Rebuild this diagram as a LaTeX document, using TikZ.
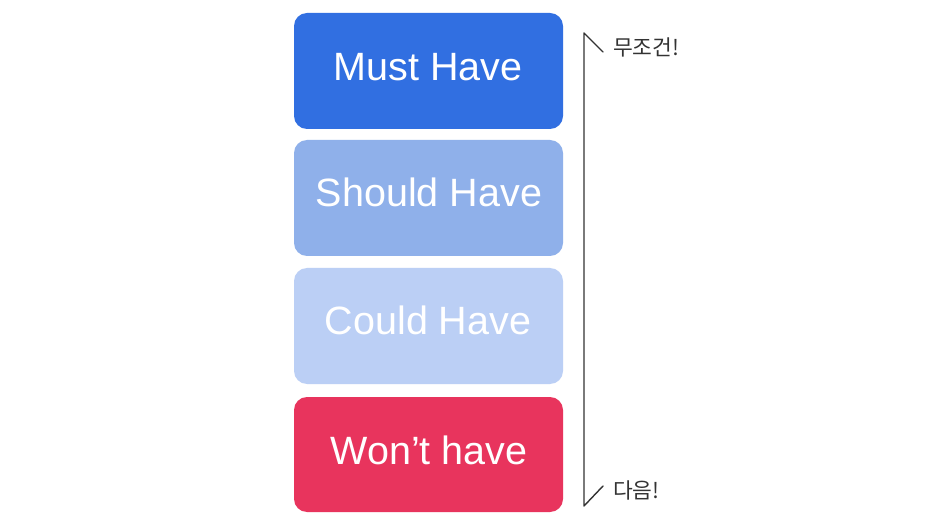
\documentclass[tikz,border=0pt]{standalone}
\usepackage{fontspec}
\setmainfont{Liberation Sans}
\newfontfamily\krfont{Noto Sans CJK KR}
\definecolor{mustc}{HTML}{316FE1}
\definecolor{shouldc}{HTML}{8FB0EA}
\definecolor{couldc}{HTML}{BBCFF5}
\definecolor{wontc}{HTML}{E8345D}
\definecolor{brc}{HTML}{333333}
\tikzset{
  prio/.style={rounded corners=13pt, draw=none},
  priotext/.style={text=white, font=\fontsize{39.5}{39.5}\selectfont, anchor=base, inner sep=0pt},
  krtext/.style={text=brc, font=\krfont\fontsize{21.5}{21.5}\selectfont, anchor=west, inner sep=0pt},
  brline/.style={draw=brc, line width=1.4pt, line cap=round, line join=round}
}
\begin{document}
\begin{tikzpicture}[x=1pt,y=-1pt]
\useasboundingbox (0,0) rectangle (940,529);
\fill[white] (0,0) rectangle (940,529);
% boxes
\fill[prio, fill=mustc]   (294,13)  rectangle (563,129);
\fill[prio, fill=shouldc] (294,140) rectangle (563,256);
\fill[prio, fill=couldc]  (294,268) rectangle (563,384);
\fill[prio, fill=wontc]   (294,397) rectangle (563,512);
\node[priotext] (must)   at (428,81)  {Must Have};
\node[priotext] (should) at (429,207) {Should Have};
\node[priotext] (could)  at (428,335) {Could Have};
\node[priotext] (wont)   at (429,464) {Won’t have};
% bracket
\coordinate (ttip) at (603,52);
\coordinate (ttop) at (584,33);
\coordinate (bbot) at (584,506);
\coordinate (btip) at (603,486);
\draw[brline] (ttip) -- (ttop) -- (bbot) -- (btip);
\node[krtext] (top) at (613,47) {무조건!};
\node[krtext] (bot) at (613,490) {다음!};
\end{tikzpicture}
\end{document}
